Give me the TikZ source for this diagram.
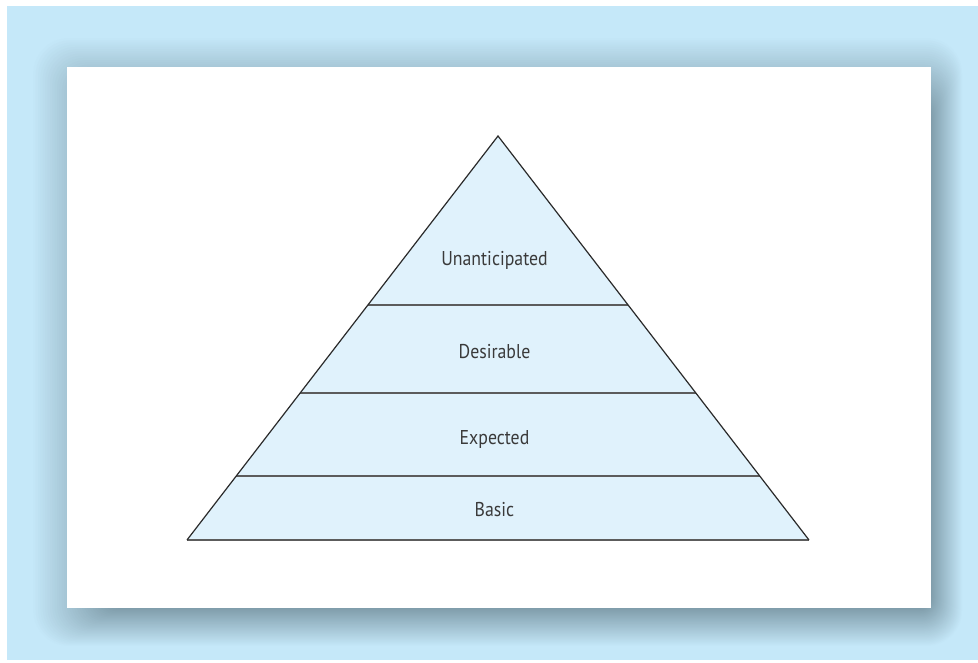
\documentclass[tikz,border=0pt]{standalone}
\usepackage{fontspec}
\setmainfont{PT Sans}
\usetikzlibrary{calc}
\definecolor{bgblue}{HTML}{C5E8F9}
\definecolor{shdark}{HTML}{6E8A97}
\definecolor{pyrfill}{HTML}{E0F2FC}
\definecolor{sideline}{HTML}{2A2A2A}
\definecolor{tierline}{HTML}{5C5C5C}
\definecolor{txt}{HTML}{3A3A3A}
\tikzset{
  tierlabel/.style={font=\fontsize{20}{24}\selectfont, text=txt, inner sep=0pt, anchor=base, xscale=0.89},
  tierrule/.style={draw=tierline, line width=1.8pt},
  pyrside/.style={draw=sideline, line width=1.2pt, line join=miter}
}
\begin{document}
\begin{tikzpicture}[x=1pt,y=-1pt]
\useasboundingbox (0,0) rectangle (978,663);
\fill[white] (0,0) rectangle (978,663);
\fill[bgblue] (7,6) rectangle (978,660);
% shadow
\foreach \i in {0,...,40}{
  \pgfmathsetmacro{\t}{\i/40}
  \pgfmathsetmacro{\xa}{31+\t*(126-31)}
  \pgfmathsetmacro{\ya}{36+\t*(124-36)}
  \pgfmathsetmacro{\xb}{963+\t*(923-963)}
  \pgfmathsetmacro{\yb}{647+\t*(599-647)}
  \pgfmathsetmacro{\rr}{36-\t*30}
  \pgfmathsetmacro{\pc}{100*\t}
  \fill[shdark!\pc!bgblue, rounded corners=\rr pt] (\xa,\ya) rectangle (\xb,\yb);
}
\fill[white] (67,67) rectangle (931,608);
% pyramid
\coordinate (A) at (498,136);
\coordinate (BL) at (187,540);
\coordinate (BR) at (809,540);
\fill[pyrfill] (A) -- (BL) -- (BR) -- cycle;
\coordinate (L1) at ($(A)!0.4183!(BL)$);
\coordinate (R1) at ($(A)!0.4183!(BR)$);
\coordinate (L2) at ($(A)!0.6361!(BL)$);
\coordinate (R2) at ($(A)!0.6361!(BR)$);
\coordinate (L3) at ($(A)!0.8416!(BL)$);
\coordinate (R3) at ($(A)!0.8416!(BR)$);
\draw[tierrule] (L1) -- (R1);
\draw[tierrule] (L2) -- (R2);
\draw[tierrule] (L3) -- (R3);
\draw[tierrule] (BL) -- (BR);
\draw[pyrside] (BL) -- (A) -- (BR);
\node[tierlabel] (t1) at (494.5,266) {Unanticipated};
\node[tierlabel] (t2) at (494.5,359) {Desirable};
\node[tierlabel] (t3) at (494.5,444) {Expected};
\node[tierlabel] (t4) at (494.5,516) {Basic};
\end{tikzpicture}
\end{document}
